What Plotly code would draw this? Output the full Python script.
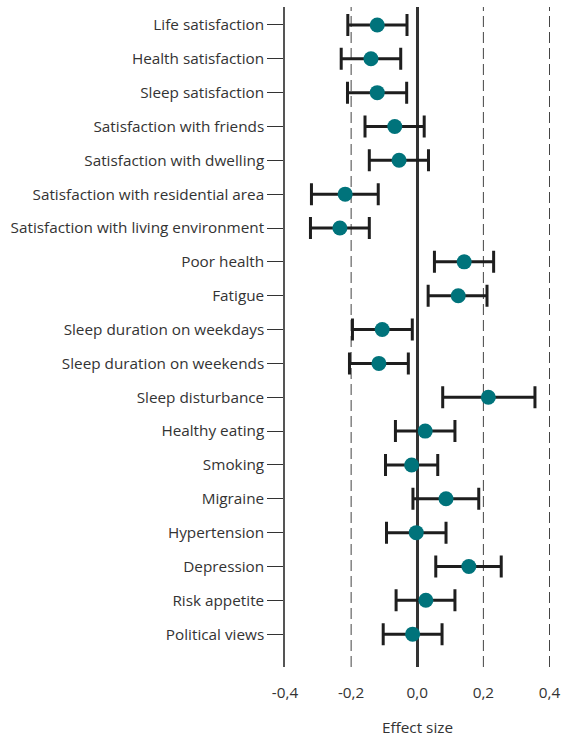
import plotly.graph_objects as go

categories = [
    "Life satisfaction", "Health satisfaction", "Sleep satisfaction",
    "Satisfaction with friends", "Satisfaction with dwelling",
    "Satisfaction with residential area", "Satisfaction with living environment",
    "Poor health", "Fatigue", "Sleep duration on weekdays",
    "Sleep duration on weekends", "Sleep disturbance", "Healthy eating",
    "Smoking", "Migraine", "Hypertension", "Depression", "Risk appetite",
    "Political views",
]
effect = [-0.121, -0.140, -0.121, -0.068, -0.055, -0.218, -0.234,
          0.142, 0.124, -0.106, -0.116, 0.215, 0.024, -0.017,
          0.087, -0.003, 0.156, 0.026, -0.014]
ci_low = [-0.210, -0.230, -0.211, -0.158, -0.145, -0.320, -0.323,
          0.052, 0.033, -0.196, -0.205, 0.077, -0.066, -0.096,
          -0.013, -0.093, 0.056, -0.064, -0.103]
ci_high = [-0.031, -0.050, -0.032, 0.021, 0.034, -0.118, -0.145,
           0.231, 0.211, -0.015, -0.027, 0.356, 0.114, 0.062,
           0.186, 0.087, 0.254, 0.114, 0.075]
x_ticks = [-0.4, -0.2, 0.0, 0.2, 0.4]
x_ticklabels = ["-0,4", "-0,2", "0,0", "0,2", "0,4"]
ref_lines = [-0.2, 0.2, 0.4]

ypos = list(range(len(categories)))
err_plus = [h - e for h, e in zip(ci_high, effect)]
err_minus = [e - l for e, l in zip(effect, ci_low)]

FONT = "Open Sans"
TXT = "#333333"
FS = 15.3

fig = go.Figure()
fig.add_trace(go.Scatter(
    x=effect, y=ypos, mode="markers",
    marker=dict(size=15, color="#00737B"),
    error_x=dict(type="data", symmetric=False, array=err_plus,
                 arrayminus=err_minus, color="#1e1e1e", thickness=3, width=11),
    showlegend=False, hoverinfo="x+text", text=categories,
))

for v in ref_lines:
    fig.add_shape(type="line", xref="x", yref="paper", x0=v, x1=v, y0=0, y1=1,
                  line=dict(color="#444444", width=1, dash="11px,5px"),
                  layer="below")

fig.update_layout(
    width=563, height=737,
    margin=dict(l=285, r=13, t=7, b=70),
    plot_bgcolor="white", paper_bgcolor="white",
    font=dict(family=FONT, size=FS, color=TXT),
    xaxis=dict(
        range=[-0.4, 0.4015], tickvals=x_ticks, ticktext=x_ticklabels,
        automargin=False, showgrid=False,
        zeroline=True, zerolinecolor="#333333", zerolinewidth=2.5,
        showline=False, ticks="outside", ticklen=12, tickcolor="rgba(0,0,0,0)",
        tickfont=dict(size=FS, color=TXT),
        title=dict(text="Effect size", font=dict(size=FS, color=TXT), standoff=20),
    ),
    yaxis=dict(
        range=[len(categories) - 1 + 0.97, -0.53],
        tickvals=ypos, ticktext=categories, automargin=False,
        showgrid=False, zeroline=False,
        showline=True, linecolor="#555555", linewidth=1.5,
        ticks="outside", ticklen=16, tickcolor="#333333", tickwidth=1.2,
        tickfont=dict(size=FS, color=TXT),
    ),
)

fig.write_html(
    "out.html",
    config={"displayModeBar": False},
    post_script="document.body.style.margin='0';document.body.style.overflow='hidden';",
)
